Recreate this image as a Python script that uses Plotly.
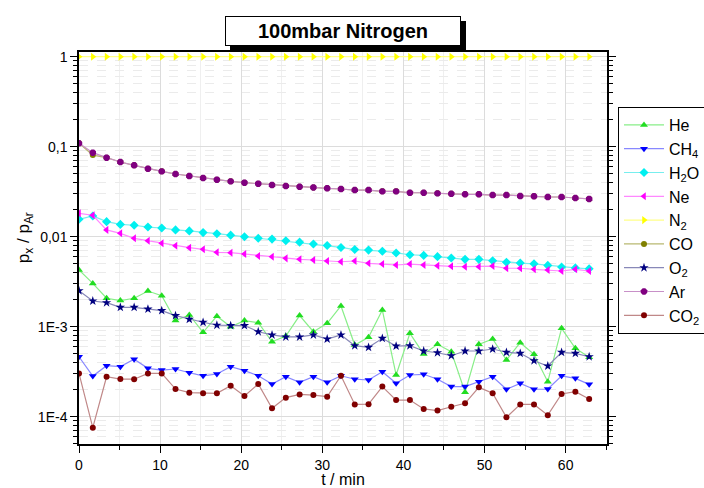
import plotly.graph_objects as go

t_min = [0, 1.7, 3.4, 5.1, 6.8, 8.5, 10.2, 11.9, 13.6, 15.3, 17.0, 18.7, 20.4, 22.1, 23.8,
         25.5, 27.2, 28.9, 30.6, 32.3, 34.0, 35.7, 37.4, 39.1, 40.8, 42.5, 44.2, 45.9, 47.6,
         49.3, 51.0, 52.7, 54.4, 56.1, 57.8, 59.5, 61.2, 62.9]

he = [0.00427, 0.00303, 0.00207, 0.00195, 0.00207, 0.00249, 0.00221, 0.00117, 0.00135, 0.000867,
      0.00131, 0.0010, 0.00117, 0.00111, 0.000681, 0.000788, 0.00133, 0.00088, 0.00109,
      0.0017, 0.000626, 0.000762, 0.00153, 0.000291, 0.000845, 0.000497, 0.000637, 0.000528,
      0.000187, 0.000637, 0.00073, 0.000427, 0.000664, 0.000494, 0.000245, 0.00096, 0.000575, 0.000457]
ch4 = [0.000464, 0.000283, 0.000369, 0.00036, 0.000435, 0.000345, 0.00033, 0.000339, 0.000308,
       0.000285, 0.000298, 0.00036, 0.000325, 0.000285, 0.000231, 0.000278, 0.000241, 0.000278, 0.000241,
       0.000285, 0.000261, 0.000256, 0.000316, 0.000235, 0.000291, 0.000296, 0.000261, 0.000216,
       0.000216, 0.000245, 0.000278, 0.000202, 0.000235, 0.000202, 0.000203, 0.000285, 0.000267, 0.000229]
h2o = [0.0156, 0.0170, 0.0147, 0.0137, 0.0134, 0.0128, 0.0125, 0.0119, 0.0116, 0.0111, 0.0108,
       0.0104, 0.0100, 0.0096, 0.0094, 0.0090, 0.0087, 0.0083, 0.0080,
       0.0076, 0.0072, 0.0071, 0.0069, 0.0066, 0.0063, 0.0062, 0.0060, 0.0058, 0.0056, 0.0056,
       0.0054, 0.0052, 0.0051, 0.0050, 0.0048, 0.0046, 0.0045, 0.0044]
ne = [0.0182, 0.0173, 0.0119, 0.0109, 0.0096, 0.0090, 0.00845, 0.00794, 0.00755, 0.00724, 0.00671,
      0.00664, 0.00642, 0.00611, 0.0060, 0.00575, 0.00561, 0.00551, 0.00537,
      0.00527, 0.00537, 0.00506, 0.00497, 0.00485, 0.00497, 0.00485, 0.00476, 0.00469, 0.00464,
      0.00464, 0.00472, 0.00446, 0.00446, 0.00434, 0.00426, 0.00416, 0.00434, 0.00416]
n2 = [1.0] * 38
co = [0.109, 0.0807, 0.0755, 0.0676, 0.0621, 0.057, 0.0532, 0.0497, 0.0472, 0.0449, 0.043, 0.0412,
      0.0398, 0.0388, 0.0375, 0.0366, 0.0359, 0.0353, 0.0345, 0.0339, 0.033, 0.033, 0.0319, 0.0319,
      0.0308, 0.0308, 0.0303, 0.030, 0.0296, 0.0296, 0.029, 0.029, 0.0283, 0.0281, 0.0276, 0.0276,
      0.0269, 0.0263]
o2 = [0.00251, 0.00193, 0.00185, 0.00164, 0.00164, 0.00157, 0.00151, 0.00133, 0.00121, 0.00112,
      0.00104, 0.00103, 0.00103, 0.00088, 0.00081, 0.00077, 0.00077, 0.00081, 0.00073,
      0.00081, 0.000615, 0.00059, 0.000743, 0.00061, 0.000615, 0.000537, 0.000514, 0.000476,
      0.000537, 0.000537, 0.000565, 0.00052, 0.000506, 0.000419, 0.000366, 0.00052, 0.000506, 0.000464]
ar = [0.109, 0.0858, 0.0755, 0.0676, 0.0621, 0.057, 0.0532, 0.0497, 0.0472, 0.0449, 0.043, 0.0412,
      0.0398, 0.0388, 0.0375, 0.0366, 0.0359, 0.0353, 0.0345, 0.0339, 0.033, 0.033, 0.0319, 0.0319,
      0.0308, 0.0308, 0.0303, 0.030, 0.0296, 0.0296, 0.029, 0.029, 0.0283, 0.0281, 0.0276, 0.0276,
      0.0269, 0.0263]
co2 = [0.000303, 0.0000755, 0.000278, 0.000262, 0.000261, 0.000303, 0.000303, 0.000203, 0.000185,
       0.000182, 0.000182, 0.000221, 0.00017, 0.000231, 0.000124, 0.000163, 0.000177, 0.000174, 0.000167,
       0.000285, 0.000137, 0.000138, 0.000216, 0.000153, 0.000153, 0.000122, 0.000117, 0.000129,
       0.000141, 0.000212, 0.000182, 0.0000985, 0.000137, 0.000137, 0.000104, 0.000179, 0.00019, 0.000157]

series_names = ["He", "CH<sub>4</sub>", "H<sub>2</sub>O", "Ne", "N<sub>2</sub>", "CO",
                "O<sub>2</sub>", "Ar", "CO<sub>2</sub>"]
series_values = [he, ch4, h2o, ne, n2, co, o2, ar, co2]
marker_colors = ["#22dd22", "#0000ff", "#00f0f0", "#ff00ff", "#ffff00", "#808000",
                 "#000080", "#800080", "#800000"]
line_colors = ["#88ee88", "#8888ff", "#77eeee", "#ff88ff", "#ffff88", "#b8b870",
               "#8888b8", "#c890c8", "#c08888"]
symbols = ["triangle-up", "triangle-down", "diamond", "triangle-left", "triangle-right",
           "circle", "star", "octagon", "circle"]
sizes = [7, 7, 7, 7, 7, 6, 7, 7, 6]

y_tickvals = [1e-4, 1e-3, 1e-2, 1e-1, 1]
y_ticktext = ["1E-4", "1E-3", "0,01", "0,1", "1"]

FONT = "Arial, Liberation Sans, sans-serif"

fig = go.Figure()
for name, vals, mc, lc, sym, sz in zip(series_names, series_values, marker_colors,
                                       line_colors, symbols, sizes):
    fig.add_trace(go.Scatter(
        x=t_min, y=vals, name=name, mode="lines+markers",
        line=dict(color=lc, width=1.2),
        marker=dict(color=mc, symbol=sym, size=sz, line=dict(width=0)),
    ))

minor_y = [k * 10 ** e for e in range(-5, 1) for k in range(2, 10)]

fig.update_layout(
    width=704, height=488,
    margin=dict(l=79, r=97, t=52, b=44),
    paper_bgcolor="white", plot_bgcolor="white",
    font=dict(family=FONT, size=14, color="black"),
    legend=dict(
        xref="container", yref="container",
        x=618 / 704, y=1 - 107 / 488, xanchor="left", yanchor="top",
        bordercolor="black", borderwidth=1, bgcolor="white",
        font=dict(size=16, family=FONT), itemwidth=40, tracegroupgap=0,
    ),
    xaxis=dict(
        range=[0, 65.1], dtick=10, tick0=0, automargin=False,
        showline=True, linecolor="black", linewidth=1.5, mirror=True,
        ticks="outside", ticklen=7, tickcolor="black",
        showgrid=True, gridcolor="#dcdcdc", gridwidth=1,
        zeroline=False,
        minor=dict(dtick=5, ticks="outside", ticklen=4, tickcolor="black",
                   showgrid=True, gridcolor="#efefef", gridwidth=1),
        title=dict(text="t / min", font=dict(size=16), standoff=6),
    ),
    yaxis=dict(
        type="log", range=[-4.303, 0.052], automargin=False,
        tickmode="array", tickvals=y_tickvals, ticktext=y_ticktext,
        showline=True, linecolor="black", linewidth=1.5, mirror="ticks",
        ticks="outside", ticklen=7, tickcolor="black",
        showgrid=True, gridcolor="#dcdcdc", gridwidth=1,
        zeroline=False,
        minor=dict(tickmode="array", tickvals=minor_y, ticks="outside", ticklen=4,
                   tickcolor="black", showgrid=True, gridcolor="#ebebeb",
                   griddash="dash", gridwidth=1),
    ),
)

# y-axis title placed between the tick labels as in the reference
fig.add_annotation(
    xref="paper", yref="paper", x=-0.102, y=(444 - 238) / 392,
    xanchor="center", yanchor="middle",
    text="p<sub>x</sub> / p<sub>Ar</sub>", textangle=-90, showarrow=False,
    font=dict(size=17, family=FONT, color="black"),
)

# title box with shadow
title_text = "<b>100mbar Nitrogen</b>"
fig.add_annotation(
    xref="paper", yref="paper", x=0.5, y=1.015, yanchor="bottom", xshift=5, yshift=-5,
    text=title_text, showarrow=False, font=dict(size=20, family=FONT, color="black"),
    bgcolor="black", bordercolor="black", borderwidth=1, width=232, height=26,
)
fig.add_annotation(
    xref="paper", yref="paper", x=0.5, y=1.015, yanchor="bottom",
    text=title_text, showarrow=False, font=dict(size=20, family=FONT, color="black"),
    bgcolor="white", bordercolor="black", borderwidth=1, width=232, height=26,
)

fig.write_html(
    "out.html",
    config={"displayModeBar": False},
    post_script="document.body.style.margin='0px';document.body.style.overflow='hidden';",
)
